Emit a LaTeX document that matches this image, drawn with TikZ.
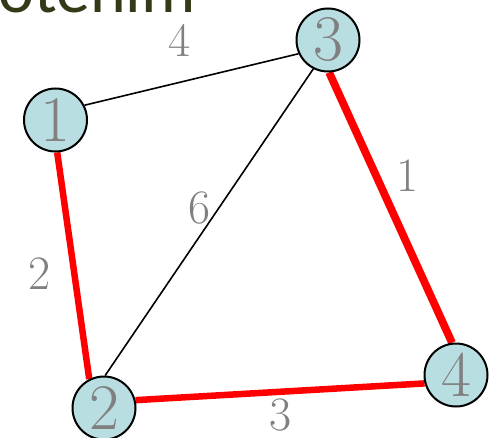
\documentclass[tikz,border=0pt]{standalone}
\usepackage{fontspec}
\newfontfamily\titlefont{Carlito}
\definecolor{nodefill}{RGB}{185,222,226}
\definecolor{labelgray}{RGB}{128,128,128}
\definecolor{titlegreen}{RGB}{50,58,24}
\pgfdeclarelayer{edgelayer}
\pgfsetlayers{edgelayer,main}
\begin{document}
\begin{tikzpicture}[x=1pt,y=1pt,
  vertex/.style={circle,draw=black,line width=2pt,fill=nodefill,minimum size=63pt,inner sep=0pt,
    text=labelgray,font=\fontsize{65}{65}\selectfont},
  weight/.style={text=labelgray,inner sep=0pt,font=\fontsize{48}{48}\selectfont},
  thinedge/.style={draw=black,line width=1.6pt},
  redge/.style={draw=red,line width=6.5pt},
  redgeb/.style={draw=red,line width=7.8pt}]
\useasboundingbox (0,0) rectangle (489,437);
\clip (0,0) rectangle (489,437);
\node[anchor=base west,inner sep=0pt,text depth=0pt,text=titlegreen,font=\titlefont\fontsize{68}{68}\selectfont] (title) at (-2,424) {otenim};
\node[vertex] (n1) at (55.5,317) {1};
\node[vertex] (n2) at (104,29) {2};
\node[vertex] (n3) at (328,397) {3};
\node[vertex] (n4) at (456,62) {4};
\begin{pgfonlayer}{edgelayer}
\draw[thinedge] (n1.27.6) -- (n3.205);
\draw[thinedge] (n2.88) -- (n3.243);
\draw[redge] (n1.273) -- (n2.117);
\draw[redgeb] (n3.272) -- (n4.97);
\draw[redge] (n2.14) -- (n4.195);
\end{pgfonlayer}
\node[weight] (w13) at (180,397) {4};
\node[weight] (w34) at (408,261) {1};
\node[weight] (w23) at (200,229) {6};
\node[weight] (w12) at (40,163) {2};
\node[weight] (w24) at (281,22) {3};
\end{tikzpicture}
\end{document}
